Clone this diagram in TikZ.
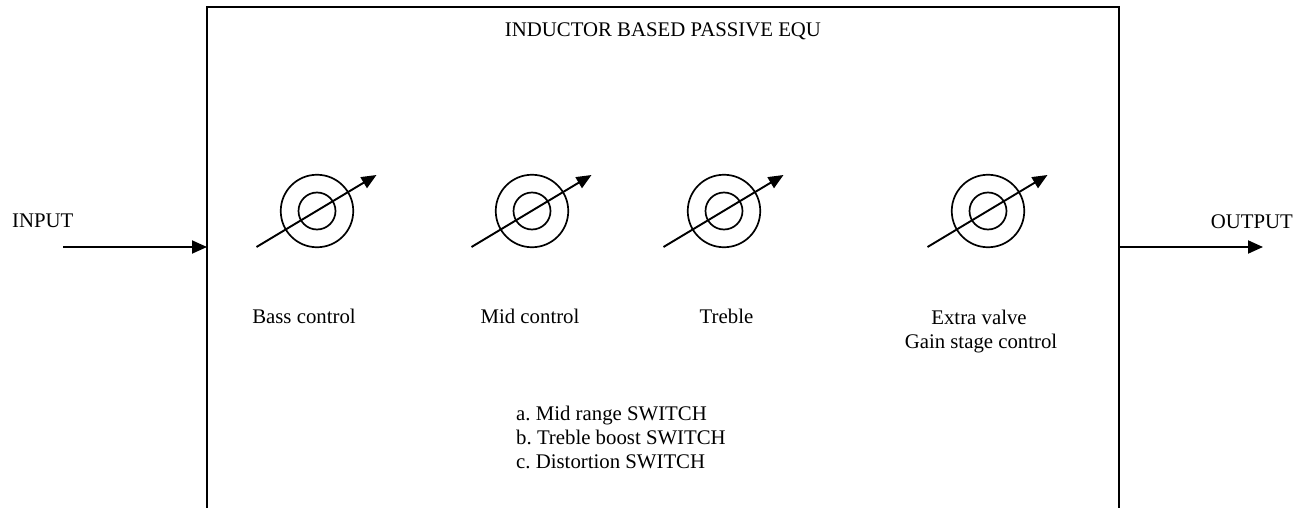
\documentclass[tikz,border=0pt]{standalone}
\usepackage{fontspec}
\setmainfont{Liberation Serif}
\usetikzlibrary{arrows.meta}
\frenchspacing
\tikzset{
  lbl/.style={inner sep=0pt, anchor=base, font=\fontsize{20.8}{24}\selectfont},
  outerring/.style={circle, draw, line width=1.7pt, minimum size=72.5pt, inner sep=0pt},
  innerring/.style={circle, draw, line width=1.7pt, minimum size=37pt, inner sep=0pt},
  knobarrow/.style={line width=1.9pt, -{Triangle[length=15pt,width=12.5pt]}},
  sigarrow/.style={line width=1.9pt, -{Triangle[length=15pt,width=13pt]}},
  frame/.style={line width=2.4pt}
}
\begin{document}
\begin{tikzpicture}[x=1pt,y=-1pt]
\useasboundingbox (0,0) rectangle (1311,508);
% frame (open at bottom)
\coordinate (bl) at (207,508);
\coordinate (tl) at (207,7);
\coordinate (tr) at (1119,7);
\coordinate (br) at (1119,508);
\draw[frame] (bl) -- (tl) -- (tr) -- (br);
\node[lbl] (title) at (663,36.5) {INDUCTOR BASED PASSIVE EQU};
% input / output
\coordinate (inS) at (63,247);
\coordinate (inE) at (207,247);
\coordinate (outS) at (1119,247);
\coordinate (outE) at (1263,247);
\draw[sigarrow] (inS) -- (inE);
\draw[sigarrow] (outS) -- (outE);
\node[lbl, anchor=base west] (input) at (12,227) {INPUT};
\node[lbl, anchor=base east] (output) at (1293,228) {OUTPUT};
% knobs
\foreach \n/\cx in {1/317, 2/532, 3/724, 4/988}{
  \node[outerring] (ko\n) at (\cx,211) {};
  \node[innerring] (ki\n) at (\cx,211) {};
  \coordinate (ka\n) at (\cx-60.5,247);
  \coordinate (kb\n) at (\cx+59.5,175);
  \draw[knobarrow] (ka\n) -- (kb\n);
}
\node[lbl] (bass) at (304,323) {Bass control};
\node[lbl] (mid) at (530,323) {Mid control};
\node[lbl] (treble) at (726.5,323) {Treble};
\node[lbl] (extra) at (979,324) {Extra valve};
\node[lbl] (gain) at (981,348) {Gain stage control};
\node[lbl, anchor=base west] (lista) at (516,420) {a. Mid range SWITCH};
\node[lbl, anchor=base west] (listb) at (516,444) {b. Treble boost SWITCH};
\node[lbl, anchor=base west] (listc) at (516,468) {c. Distortion SWITCH};
\end{tikzpicture}
\end{document}
